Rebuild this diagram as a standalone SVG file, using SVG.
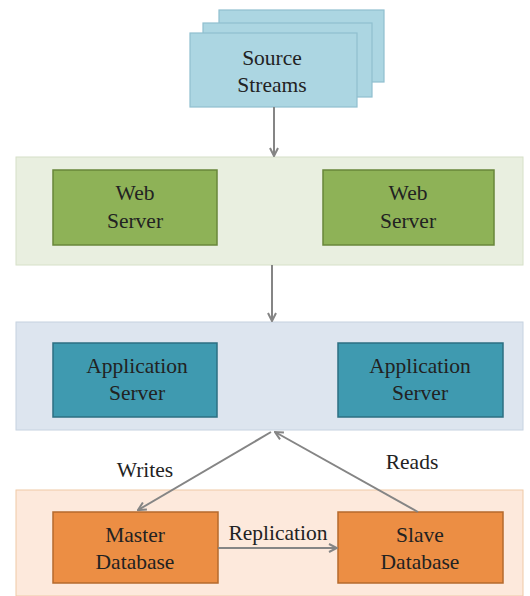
<svg xmlns="http://www.w3.org/2000/svg" width="530" height="596" viewBox="0 0 530 596">
<style>
.t{font-family:"Liberation Serif","Times New Roman",serif;font-size:21.5px;fill:#222;text-anchor:middle}
.src{fill:#acd6e2;stroke:#8fbfcf;stroke-width:1.2}
.web{fill:#8eb257;stroke:#68873a;stroke-width:1.5}
.app{fill:#3f9ab0;stroke:#2c6f82;stroke-width:1.5}
.db{fill:#ec8e44;stroke:#b56a2c;stroke-width:1.5}
.conn{stroke:#858585;stroke-width:2;fill:none;marker-end:url(#ah)}
</style>
<defs>
<marker id="ah" viewBox="0 0 10 10" refX="9" refY="5" markerWidth="5" markerHeight="5" orient="auto" markerUnits="strokeWidth">
<path d="M1,1 L9,5 L1,9" fill="none" stroke="#858585" stroke-width="2"/>
</marker>
</defs>
<rect width="530" height="596" fill="#ffffff"/>
<g id="tier-web"><rect x="16" y="157" width="507" height="108" fill="#e9efe0" stroke="#d6e0c8" stroke-width="1"/></g>
<g id="tier-app"><rect x="16" y="322" width="507" height="108" fill="#dde5ef" stroke="#c6d2e0" stroke-width="1"/></g>
<g id="tier-db"><rect x="16" y="490" width="507" height="106" fill="#fde9dc" stroke="#efc9a6" stroke-width="1"/></g>

<g id="source-streams">
<rect class="src" x="219" y="10" width="165" height="72"/>
<rect class="src" x="203" y="23" width="169" height="74"/>
<rect class="src" x="190" y="33" width="167" height="74"/>
<text class="t" x="272" y="65">Source</text>
<text class="t" x="272" y="92">Streams</text>
</g>
<g id="web-server-1">
<rect class="web" x="53" y="170" width="164" height="75"/>
<text class="t" x="135" y="200">Web</text>
<text class="t" x="135" y="228">Server</text>
</g>
<g id="web-server-2">
<rect class="web" x="323" y="170" width="171" height="75"/>
<text class="t" x="408" y="200">Web</text>
<text class="t" x="408" y="228">Server</text>
</g>
<g id="app-server-1">
<rect class="app" x="53" y="343" width="164" height="74"/>
<text class="t" x="137" y="373">Application</text>
<text class="t" x="137" y="400">Server</text>
</g>
<g id="app-server-2">
<rect class="app" x="338" y="343" width="165" height="74"/>
<text class="t" x="420" y="373">Application</text>
<text class="t" x="420" y="400">Server</text>
</g>
<g id="master-db">
<rect class="db" x="53" y="512" width="165" height="71"/>
<text class="t" x="135" y="542">Master</text>
<text class="t" x="135" y="569">Database</text>
</g>
<g id="slave-db">
<rect class="db" x="338" y="512" width="165" height="71"/>
<text class="t" x="420" y="542">Slave</text>
<text class="t" x="420" y="569">Database</text>
</g>

<g id="connectors">
<line class="conn" x1="274" y1="107" x2="274" y2="156"/>
<line class="conn" x1="272" y1="265" x2="272" y2="321"/>
<line class="conn" x1="271" y1="432" x2="138" y2="510"/>
<line class="conn" x1="418" y1="512" x2="275" y2="432"/>
<line class="conn" x1="218" y1="548" x2="337" y2="548"/>
<text class="t" x="145" y="477">Writes</text>
<text class="t" x="412" y="469">Reads</text>
<text class="t" x="278" y="540">Replication</text>
</g>
</svg>
